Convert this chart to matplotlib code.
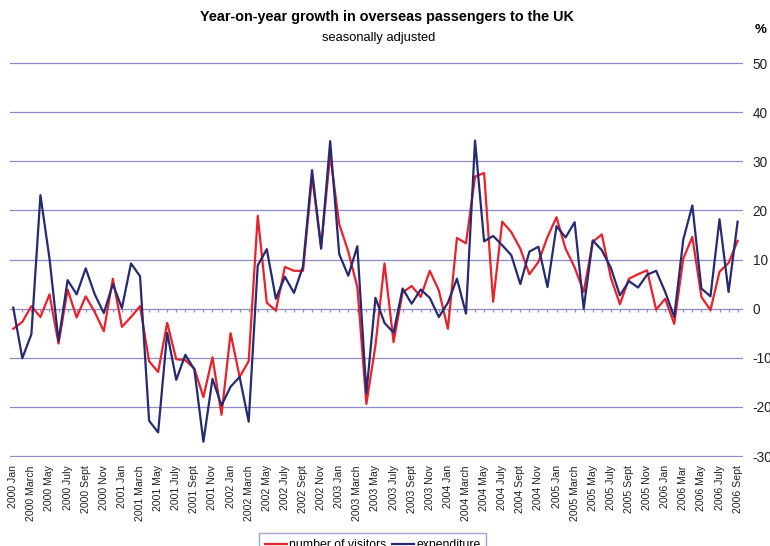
import matplotlib
matplotlib.use("Agg")
import matplotlib.pyplot as plt
import numpy as np

MONTHS = ["Jan", "Feb", "March", "Apr", "May", "June", "July", "Aug", "Sept", "Oct", "Nov", "Dec"]
MONTHS_06 = ["Jan", "Feb", "Mar", "Apr", "May", "June", "July", "Aug", "Sept"]

visitors = [
    -4.1, -2.7, 0.5, -1.7, 2.9, -7.1, 3.9, -1.8, 2.5, -0.7, -4.6, 6.1,
    -3.7, -1.7, 0.5, -10.7, -12.9, -2.9, -10.3, -10.5, -12.2, -18.0, -9.9, -21.6,
    -5.0, -13.9, -10.7, 18.9, 1.2, -0.4, 8.5, 7.7, 7.7, 26.9, 12.6, 31.3,
    17.2, 11.6, 4.4, -19.4, -7.5, 9.2, -6.8, 3.3, 4.6, 2.4, 7.7, 3.7,
    -4.1, 14.4, 13.3, 26.9, 27.6, 1.4, 17.7, 15.6, 12.2, 7.0, 9.5, 14.6,
    18.6, 12.2, 8.4, 3.4, 13.6, 15.1, 6.3, 0.9, 6.1, 7.0, 7.8, -0.2,
    2.0, -3.1, 10.2, 14.6, 2.4, -0.3, 7.5, 9.3, 13.8,
]
expenditure = [
    0.2, -10.1, -5.2, 23.1, 10.2, -6.6, 5.8, 2.9, 8.2, 2.9, -0.9, 5.0,
    0.1, 9.2, 6.6, -22.8, -25.2, -4.9, -14.5, -9.4, -12.4, -27.1, -14.3, -19.7,
    -15.9, -13.9, -23.0, 8.8, 12.1, 2.0, 6.5, 3.2, 8.6, 28.2, 12.2, 34.1,
    11.1, 6.7, 12.7, -17.2, 2.2, -2.9, -4.9, 4.1, 1.0, 3.9, 2.2, -1.7,
    1.2, 6.1, -1.0, 34.2, 13.7, 14.8, 12.9, 10.9, 5.0, 11.6, 12.6, 4.4,
    16.8, 14.5, 17.6, 0.0, 13.9, 11.9, 8.3, 2.7, 5.6, 4.3, 6.9, 7.7,
    3.4, -1.7, 14.1, 21.0, 4.1, 2.5, 18.2, 3.4, 17.7,
]

labels = []
for year in range(2000, 2007):
    names = MONTHS_06 if year == 2006 else MONTHS
    labels += [f"{year} {m}" for m in names]

GRID = "#8c8cc8"
RED = "#e8212b"
NAVY = "#262a70"
FONT = ["Liberation Sans", "DejaVu Sans"]

x = np.arange(len(visitors))

fig = plt.figure(figsize=(7.7, 5.46), dpi=100)
ax = fig.add_axes([0.013, 0.1630, 0.952, 0.7234])

for v in range(-30, 51, 10):
    ax.axhline(v, color=GRID, lw=0.9, zorder=1)
ax.vlines(x, -0.7, 0, color=GRID, lw=0.9, zorder=1)

ax.plot(x, visitors, color=RED, lw=1.6, zorder=3, label="number of visitors")
ax.plot(x, expenditure, color=NAVY, lw=1.6, zorder=4, label="expenditure")

ax.set_xlim(-0.36, 80.6)
ax.set_ylim(-30.2, 50.2)
for s in ax.spines.values():
    s.set_visible(False)

ax.set_xticks(x[::2])
ax.set_xticklabels(labels[::2], rotation=90, fontsize=7.6, family=FONT, color="#222222")
ax.tick_params(axis="x", length=0, pad=6)

ax.yaxis.tick_right()
ax.set_yticks(range(-30, 51, 10))
ax.set_yticklabels([str(v) for v in range(-30, 51, 10)], fontsize=9.8, family=FONT, color="#222222")
ax.tick_params(axis="y", length=0, pad=7)

fig.text(0.503, 0.968, "Year-on-year growth in overseas passengers to the UK",
         ha="center", va="center", fontsize=10.4, fontweight="bold", family=FONT)
fig.text(0.492, 0.93, "seasonally adjusted", ha="center", va="center", fontsize=9.3, family=FONT)
fig.text(0.9875, 0.945, "%", ha="center", va="center", fontsize=9.5, fontweight="bold", family=FONT)

leg = fig.legend(loc="upper center", bbox_to_anchor=(0.484, 0.024), ncol=2, frameon=True,
                 fancybox=False, prop={"family": FONT, "size": 8.8}, handlelength=1.8,
                 columnspacing=0.4, handletextpad=0.2, borderpad=0.5, borderaxespad=0)
leg.get_frame().set_edgecolor(GRID)

fig.savefig("out.png", dpi=100)
